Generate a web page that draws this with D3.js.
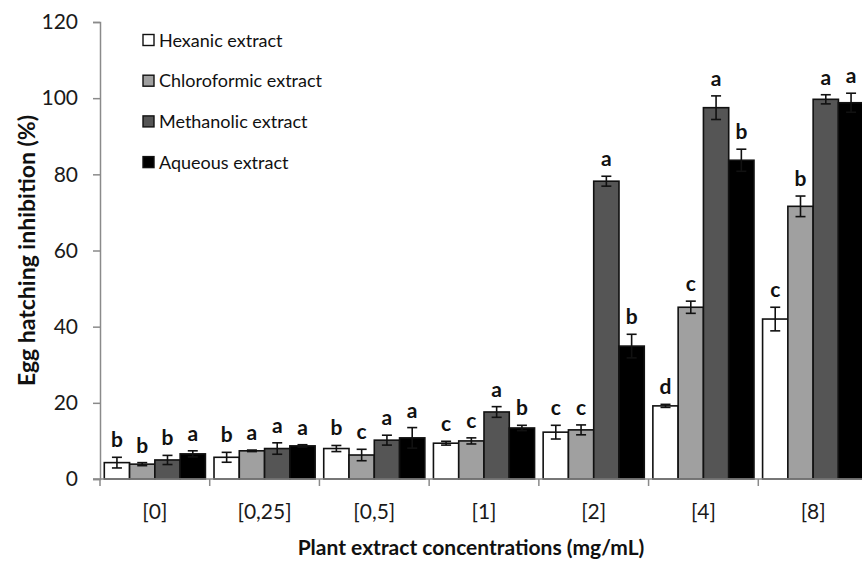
<!DOCTYPE html>
<html><head><meta charset="utf-8">
<script src="https://cdn.jsdelivr.net/npm/d3@7"></script>
<style>body{margin:0;background:#fff}svg{display:block}text{font-family:Lato,"Open Sans",sans-serif}</style>
</head><body><svg id="c" width="862" height="561"></svg>
<script>
const categories = ["[0]","[0,25]","[0,5]","[1]","[2]","[4]","[8]"];
const seriesNames = ["Hexanic extract","Chloroformic extract","Methanolic extract","Aqueous extract"];
const seriesColors = ["#ffffff","#a0a0a0","#555555","#000000"];
const hexanic = [4.3,5.7,8.0,9.4,12.3,19.2,42.0];
const chloroformic = [3.9,7.4,6.3,10.0,12.9,45.1,71.6];
const methanolic = [5.0,8.0,10.2,17.6,78.2,97.5,99.7];
const aqueous = [6.6,8.7,10.8,13.4,34.9,83.7,98.8];
const hexanicErr = [1.4,1.3,0.8,0.5,1.8,0.4,3.1];
const chloroformicErr = [0.4,0.2,1.5,0.8,1.3,1.6,2.7];
const methanolicErr = [1.2,1.5,1.3,1.4,1.3,3.1,1.2];
const aqueousErr = [0.8,0.3,2.7,0.7,3.1,2.9,2.5];
const hexanicLetters = ["b","b","b","c","c","d","c"];
const chloroformicLetters = ["b","a","c","c","c","c","b"];
const methanolicLetters = ["b","a","a","a","a","a","a"];
const aqueousLetters = ["a","a","a","b","b","b","a"];
const yTicks = [0,20,40,60,80,100,120];

const values = [hexanic, chloroformic, methanolic, aqueous];
const errs = [hexanicErr, chloroformicErr, methanolicErr, aqueousErr];
const letters = [hexanicLetters, chloroformicLetters, methanolicLetters, aqueousLetters];

const svg = d3.select("#c");
const m = {l:100, t:22, r:-6, b:82};
const W = 862, H = 561;
const x0 = d3.scaleBand().domain(categories).range([m.l, W - m.r]).paddingInner(0).paddingOuter(0);
const x1 = d3.scaleBand().domain(d3.range(4)).range([0, x0.bandwidth()]).paddingInner(0).paddingOuter(0.17);
const y = d3.scaleLinear().domain([0,120]).range([H - m.b, m.t]);

// y axis
const ya = svg.append("g").attr("transform",`translate(${m.l},0)`)
  .call(d3.axisLeft(y).tickValues(yTicks).tickSize(7).tickPadding(15));
ya.select(".domain").attr("stroke","#8a8a8a").attr("stroke-width",1.5);
ya.selectAll(".tick line").attr("stroke","#8a8a8a").attr("stroke-width",1.5);
ya.selectAll(".tick text").attr("font-size",21).attr("fill","#1a1a1a").style("font-family","Lato");

// bars
const data = [];
categories.forEach((c,i)=>{ for(let s=0;s<4;s++) data.push({c, s, v:values[s][i], e:errs[s][i], l:letters[s][i]}); });
const g = svg.append("g");
g.selectAll("rect").data(data).join("rect")
  .attr("x", d=>x0(d.c)+x1(d.s)).attr("width", x1.bandwidth())
  .attr("y", d=>y(d.v)).attr("height", d=>y(0)-y(d.v))
  .attr("fill", d=>seriesColors[d.s]).attr("stroke","#111").attr("stroke-width",1.6);

// error bars
const eb = svg.append("g").attr("stroke-width",1.6);
data.forEach(d=>{
  const cx = x0(d.c)+x1(d.s)+x1.bandwidth()/2;
  const col = "#111";
  eb.append("line").attr("x1",cx).attr("x2",cx).attr("y1",y(d.v+d.e)).attr("y2",y(d.v-d.e)).attr("stroke",col);
  eb.append("line").attr("x1",cx-5).attr("x2",cx+5).attr("y1",y(d.v+d.e)).attr("y2",y(d.v+d.e)).attr("stroke",col);
  eb.append("line").attr("x1",cx-5).attr("x2",cx+5).attr("y1",y(d.v-d.e)).attr("y2",y(d.v-d.e)).attr("stroke",col);
});

// letters
svg.append("g").selectAll("text").data(data).join("text")
  .attr("x", d=>x0(d.c)+x1(d.s)+x1.bandwidth()/2)
  .attr("y", d=>y(d.v+d.e)-10)
  .attr("text-anchor","middle").attr("font-size",21).attr("font-weight","bold").attr("fill","#111")
  .text(d=>d.l);

// x axis
const xa = svg.append("g").attr("transform",`translate(0,${y(0)})`)
  .call(d3.axisBottom(x0).tickSize(0).tickPadding(25));
xa.select(".domain").attr("stroke","#8a8a8a").attr("stroke-width",1.5).attr("d",`M${m.l-7},0H${W+10}`);
xa.selectAll(".tick text").attr("font-size",21).attr("fill","#1a1a1a").style("font-family","Lato");
xa.selectAll(".bound").data(categories).join("line").attr("class","bound")
  .attr("x1",d=>x0(d)).attr("x2",d=>x0(d)).attr("y1",0).attr("y2",7)
  .attr("stroke","#8a8a8a").attr("stroke-width",1.5);

// axis titles
svg.append("text").attr("x", 471).attr("y", 555).attr("text-anchor","middle")
  .attr("font-size",21).attr("font-weight","bold").attr("fill","#111").text("Plant extract concentrations (mg/mL)");
svg.append("text").attr("transform",`translate(35,${(y(0)+y(120))/2})rotate(-90)`).attr("text-anchor","middle")
  .attr("font-size",23).attr("font-weight","bold").attr("fill","#111").text("Egg hatching inhibition (%)");

// legend
const lg = svg.append("g").attr("transform","translate(143,40)");
seriesNames.forEach((n,i)=>{
  const r = lg.append("g").attr("transform",`translate(0,${i*40.7})`);
  r.append("rect").attr("x",0).attr("y",-5.5).attr("width",11).attr("height",11)
    .attr("fill",seriesColors[i]).attr("stroke","#111").attr("stroke-width",1.4);
  r.append("text").attr("x",16).attr("y",6.5).attr("font-size",18).attr("fill","#111").text(n);
});
</script></body></html>
